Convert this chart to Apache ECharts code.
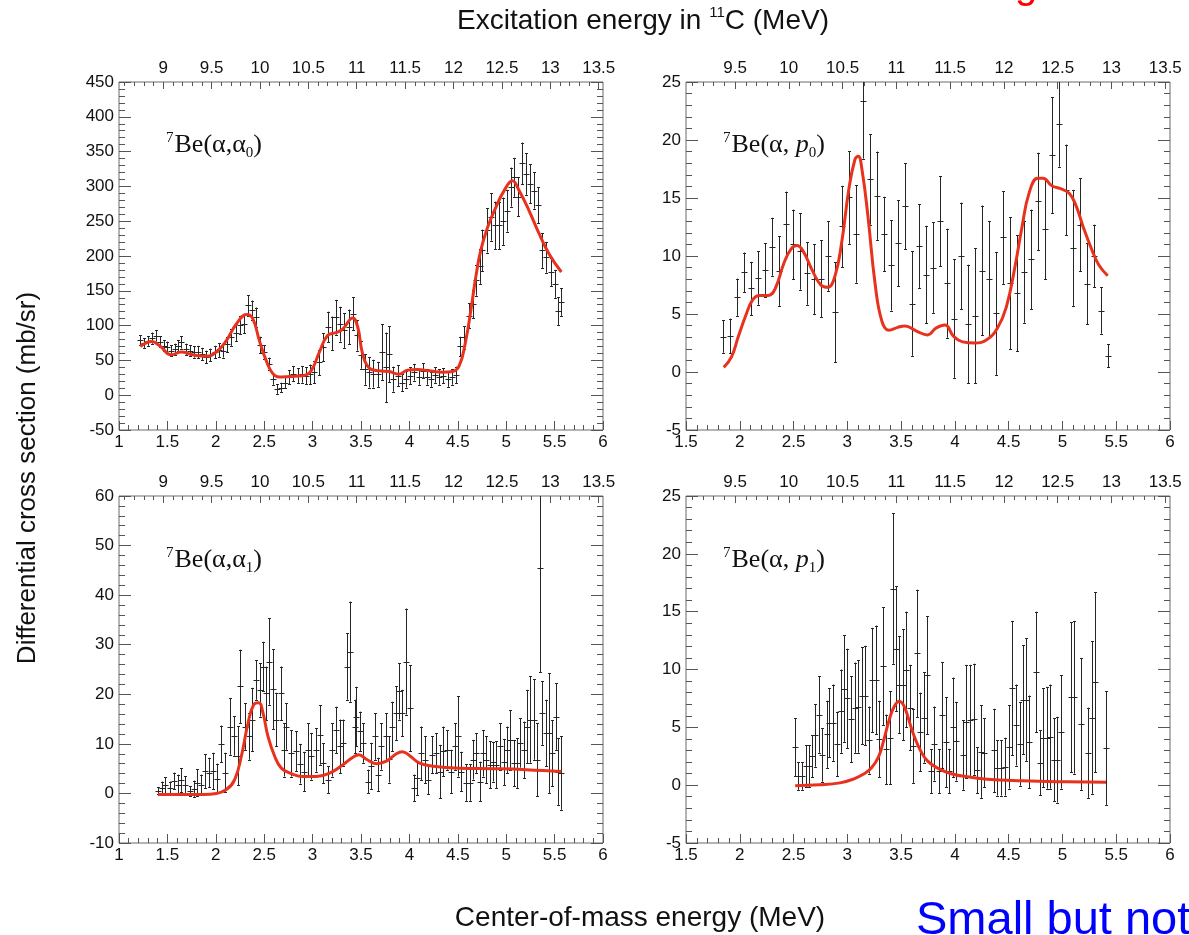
<!DOCTYPE html>
<html><head><meta charset="utf-8">
<script src="https://cdn.jsdelivr.net/npm/echarts@6/dist/echarts.min.js"></script>
<style>html,body{margin:0;padding:0;background:#fff}#c{width:1189px;height:935px}</style>
</head><body><div id="c"></div>
<script>
// ---------------- DATA ----------------
const EX_OFFSET = 7.544; // Ex(11C) = Ecm + alpha threshold
const exTickLabels = [9, 9.5, 10, 10.5, 11, 11.5, 12, 12.5, 13, 13.5];

// Panel 1: 7Be(a,a0)
const p1E = [1.220,1.258,1.299,1.340,1.378,1.420,1.461,1.495,1.540,1.574,
1.609,1.643,1.688,1.729,1.770,1.815,1.860,1.901,1.942,1.987,
2.032,2.073,2.114,2.159,2.204,2.245,2.290,2.331,2.376,2.417,
2.458,2.503,2.547,2.589,2.630,2.675,2.716,2.761,2.802,2.847,
2.891,2.933,2.974,3.019,3.063,3.105,3.156,3.201,3.242,3.283,
3.328,3.373,3.414,3.455,3.500,3.545,3.586,3.627,3.672,3.717,
3.758,3.792,3.834,3.878,3.923,3.964,4.006,4.050,4.095,4.136,
4.177,4.222,4.267,4.308,4.349,4.394,4.439,4.480,4.521,4.566,
4.611,4.652,4.686,4.728,4.755,4.800,4.841,4.886,4.927,4.968,
5.013,5.048,5.082,5.127,5.168,5.209,5.244,5.288,5.333,5.374,
5.415,5.460,5.505,5.536,5.570];
const p1Y = [79,75,78,82,85,77,71,69,64,66,
71,76,66,64,62,62,59,55,58,62,
65,64,73,83,90,101,103,129,122,112,
72,62,45,23,9,11,18,26,31,28,
30,28,30,33,47,69,98,89,112,102,
93,98,117,86,58,37,33,31,30,62,
40,59,23,28,18,23,28,33,26,35,
26,23,29,26,28,23,26,29,70,83,
114,131,165,185,208,237,256,244,244,250,
265,299,313,285,333,318,304,294,273,208,
198,177,160,121,134];
const p1Err = [7,7,7,8,8,8,8,8,8,8,
8,9,8,8,8,9,9,9,9,9,
10,10,11,12,12,13,14,15,14,14,
12,10,9,8,7,7,8,10,11,11,
12,12,14,16,18,20,22,24,25,25,
25,25,24,22,20,22,22,20,18,40,
50,40,18,15,12,12,12,12,11,11,
11,11,11,11,11,11,11,12,14,16,
18,20,22,25,30,32,34,34,34,34,
30,28,28,28,30,30,28,26,26,25,
22,20,20,20,20];
const p1CE = [1.220,1.340,1.420,1.540,1.643,1.763,1.901,2.004,2.107,2.210,
2.320,2.382,2.451,2.520,2.589,2.657,2.761,2.898,2.984,3.070,
3.156,3.242,3.311,3.414,3.466,3.517,3.586,3.689,3.792,3.889,
3.981,4.085,4.205,4.343,4.446,4.514,4.576,4.635,4.686,4.737,
4.807,4.893,4.979,5.065,5.133,5.237,5.340,5.443,5.570];
const p1CY = [70,77,71,58,62,58,56,62,78,102,
116,110,78,50,31,26,27,28,35,62,
86,90,95,111,98,59,39,35,34,30,
36,37,35,33,34,42,74,122,170,208,
241,270,294,308,294,265,232,203,177];

// Panel 2: 7Be(a,p0)
const p2E = [1.842,1.910,1.978,2.040,2.105,2.170,2.235,2.300,2.366,2.431,
2.496,2.561,2.626,2.691,2.756,2.821,2.886,2.951,3.016,3.081,
3.150,3.212,3.277,3.342,3.407,3.472,3.537,3.602,3.667,3.732,
3.797,3.863,3.928,3.993,4.058,4.123,4.188,4.253,4.318,4.383,
4.448,4.513,4.578,4.643,4.709,4.774,4.839,4.904,4.969,5.034,
5.099,5.164,5.229,5.294,5.359,5.425];
const p2Y = [3.06,3.1,6.45,8.6,7.2,8.1,8.8,10.8,8.7,12.75,
11.0,10.4,8.5,8.0,8.05,10.0,5.15,12.55,15.05,11.9,
23.4,16.6,15.2,11.9,9.2,11.1,14.3,5.9,10.85,8.4,
9.0,13.0,7.65,4.6,10.0,4.15,4.85,8.75,8.0,5.05,
11.6,7.65,6.8,8.65,9.7,14.7,12.3,18.7,21.4,15.7,
10.7,12.7,7.6,10.0,5.3,1.4];
const p2Err = [1.4,1.5,1.6,1.7,2.3,2.3,2.3,2.5,3.0,2.8,
3.0,3.3,2.7,3.0,3.3,3.0,4.3,3.5,4.0,4.2,
5.0,3.9,3.8,3.2,3.9,3.7,3.7,4.5,3.6,4.2,
3.9,3.9,4.7,5.1,4.6,5.1,5.8,5.6,5.0,5.3,
4.0,5.7,5.0,4.4,4.3,4.2,4.3,5.0,3.7,3.9,
5.0,4.0,3.5,2.7,2.0,1.0];
const p2CE = [1.851,1.923,1.988,2.053,2.118,2.183,2.265,2.330,2.411,2.476,
2.532,2.590,2.672,2.753,2.818,2.883,2.948,3.013,3.070,3.101,
3.137,3.192,3.257,3.322,3.387,3.469,3.534,3.648,3.745,3.827,
3.908,3.989,4.071,4.185,4.299,4.396,4.478,4.559,4.624,4.689,
4.770,4.819,4.901,4.982,5.063,5.128,5.193,5.275,5.340,5.421];
const p2CY = [0.4,1.3,3.1,4.8,6.2,6.6,6.6,7.2,9.4,10.6,
10.9,10.4,8.8,7.5,7.3,8.2,11.2,15.7,18.3,18.6,
17.4,13.4,7.7,4.35,3.6,3.85,3.97,3.5,3.2,3.8,
4.05,3.06,2.6,2.5,2.8,3.8,5.6,9.1,12.5,15.4,
16.7,16.7,16.05,15.8,15.4,14.3,12.5,10.5,9.2,8.3];

// Panel 3: 7Be(a,a1)
const p3E = [1.403,1.444,1.479,1.523,1.565,1.609,1.644,1.685,1.730,1.771,
1.806,1.851,1.892,1.930,1.971,2.012,2.057,2.098,2.143,2.185,
2.229,2.253,2.298,2.343,2.377,2.419,2.460,2.488,2.522,2.550,
2.591,2.625,2.677,2.701,2.729,2.780,2.825,2.866,2.908,2.953,
2.987,3.032,3.074,3.107,3.159,3.204,3.245,3.280,3.314,3.359,
3.390,3.435,3.452,3.486,3.521,3.572,3.607,3.641,3.676,3.710,
3.755,3.789,3.824,3.858,3.893,3.927,3.968,4.010,4.044,4.079,
4.123,4.158,4.192,4.237,4.278,4.320,4.347,4.388,4.433,4.468,
4.502,4.537,4.581,4.623,4.657,4.691,4.726,4.760,4.795,4.829,
4.864,4.898,4.939,4.974,5.008,5.036,5.077,5.112,5.146,5.180,
5.215,5.249,5.284,5.318,5.346,5.373,5.408,5.442,5.477,5.511,
5.539,5.570];
const p3Y = [0.5,1.1,1.6,1.1,2.5,1.8,2.7,1.8,0.4,0.9,
2.2,1.8,4.5,4.2,4.5,3.0,10.0,4.2,13.5,11.6,
7.6,21.6,13.5,11.5,14.9,22.9,20.9,25.6,20.2,26.6,
21.0,14.9,20.2,8.8,13.5,8.1,8.5,6.0,4.4,8.8,
7.5,8.8,11.8,6.1,2.8,8.8,12.8,9.5,10.2,25.6,
28.6,13.5,15.5,12.5,10.2,2.4,5.5,11.5,3.8,9.5,
11.5,6.9,13.5,16.2,20.6,16.2,26.6,17.2,1.1,3.1,
8.1,6.8,2.8,7.8,8.1,4.4,8.5,8.8,4.4,9.5,
11.5,4.4,2.2,2.2,6.8,8.1,2.4,8.1,6.8,5.8,
6.4,5.8,9.5,6.3,8.8,10.8,6.1,6.1,10.2,8.8,
13.5,14.9,14.9,6.8,45.4,16.2,12.2,12.2,8.1,15.5,
4.4,4.1];
const p3Err = [0.7,1.3,1.7,1.3,1.7,2.0,2.4,1.7,1.0,1.7,
2.7,2.0,3.4,3.0,3.7,3.0,3.7,4.0,5.7,4.0,
6.0,7.4,4.7,4.7,6.4,4.0,5.4,5.0,5.4,8.7,
8.1,5.4,5.4,5.4,4.7,4.7,4.0,4.0,4.0,5.4,
4.7,4.4,6.0,4.0,2.7,5.4,4.7,5.4,4.7,6.7,
10.1,5.4,6.0,4.0,4.0,2.4,4.7,4.7,3.4,4.7,
4.7,4.7,5.0,5.4,5.7,4.7,10.7,8.7,2.7,3.4,
5.4,4.7,3.0,3.7,4.0,5.4,5.0,4.0,4.4,4.7,
8.1,4.0,3.7,3.7,4.0,4.0,4.0,4.7,4.7,4.7,
4.0,4.7,4.7,4.7,4.7,6.0,4.7,5.0,5.0,5.7,
7.4,8.7,8.1,7.4,21.0,6.4,6.7,12.1,6.7,6.7,
6.7,7.4];
const p3CE = [1.403,1.592,1.868,2.006,2.109,2.195,2.264,2.333,2.391,2.443,
2.488,2.539,2.608,2.677,2.780,2.901,3.039,3.176,3.314,3.417,
3.479,3.555,3.658,3.762,3.865,3.927,4.003,4.106,4.244,4.519,
4.864,5.208,5.570];
const p3CY = [-0.2,-0.2,-0.2,0,0.8,2.8,7.5,14.2,17.9,18.3,
16.2,11.5,7.5,5.1,4.0,3.4,3.4,4.1,5.8,7.3,
7.8,6.9,6.0,6.5,8.0,8.4,7.6,6.1,5.5,5.1,
5.0,4.8,4.4];

// Panel 4: 7Be(a,p1)
const p4E = [2.515,2.541,2.574,2.613,2.645,2.672,2.704,2.737,2.769,2.808,
2.834,2.867,2.906,2.938,2.971,2.997,3.036,3.069,3.101,3.134,
3.166,3.199,3.231,3.264,3.296,3.329,3.361,3.394,3.420,3.453,
3.485,3.518,3.550,3.583,3.615,3.648,3.680,3.713,3.745,3.778,
3.810,3.850,3.876,3.915,3.947,3.980,4.012,4.077,4.103,4.136,
4.175,4.207,4.240,4.273,4.364,4.396,4.429,4.468,4.500,4.533,
4.565,4.605,4.635,4.663,4.689,4.754,4.787,4.819,4.852,4.884,
4.917,4.949,4.988,5.080,5.112,5.177,5.242,5.275,5.307,5.405];
const p4Y = [3.27,0.8,0.8,1.65,1.65,2.5,4.3,6.1,2.6,4.4,
5.4,5.4,3.55,6.4,8.35,7.5,5.7,6.7,6.8,7.75,
7.75,3.9,9.1,9.1,4.0,10.3,3.1,4.1,17.0,11.8,
8.7,8.7,10.0,6.7,3.4,11.4,4.6,5.85,9.5,1.2,
3.6,1.2,6.05,3.7,1.2,5.0,3.8,2.6,5.5,5.6,
5.7,1.3,2.9,2.8,3.0,1.5,1.5,1.6,3.3,8.4,
5.2,3.55,7.4,7.4,3.75,9.8,1.95,4.1,4.1,4.2,
2.2,2.2,4.6,7.6,7.6,5.3,2.8,5.85,8.9,3.2];
const p4Err = [2.5,1.2,1.2,1.8,1.8,1.8,2.7,3.3,2.3,2.9,
3.0,3.3,2.8,3.6,4.6,4.3,3.7,3.9,4.0,4.2,
4.3,2.9,4.5,4.7,3.3,5.1,3.0,4.0,6.5,5.4,
4.2,4.8,5.0,3.7,3.2,5.5,3.4,3.9,5.1,1.9,
3.2,1.9,4.6,3.9,1.9,4.3,3.4,3.0,4.9,4.8,
4.8,2.0,4.0,3.0,3.6,2.4,2.4,2.5,3.6,5.8,
3.5,3.6,4.7,5.3,4.0,5.2,2.8,4.3,4.4,4.5,
3.6,3.7,4.9,6.5,6.6,5.7,3.9,6.6,7.8,4.9];
const p4CE = [2.515,2.737,2.932,3.062,3.160,3.225,3.290,3.339,3.388,3.436,
3.485,3.518,3.550,3.583,3.631,3.680,3.745,3.843,3.973,4.136,
4.299,4.624,4.949,5.405];
const p4CY = [-0.05,0.03,0.2,0.55,1.0,1.5,2.45,3.9,5.6,6.8,
7.25,7.0,6.3,5.3,4.0,3.0,2.1,1.45,0.97,0.7,
0.52,0.38,0.3,0.25];

// ---------------- STYLE / LAYOUT ----------------
const FONT = "'Liberation Sans', Arial, Helvetica, sans-serif";
const TITLE_FONT = "'Liberation Sans', Arial, sans-serif";
const SERIF = "'Liberation Serif', 'Times New Roman', serif";
const TICK_C = '#555';
const BAR_C = '#262626';
const CURVE_C = '#e8321e';

const panels = [
  {E:p1E, Y:p1Y, Err:p1Err, cE:p1CE, cY:p1CY, xMin:1, xMax:6, yMin:-50, yMax:450, yInt:50,
   left:119, top:82, width:484, height:348, label:'{sup|7}{m|Be(α,α}{sub|0}{m|)}', lx:166, ly:129},
  {E:p2E, Y:p2Y, Err:p2Err, cE:p2CE, cY:p2CY, xMin:1.5, xMax:6, yMin:-5, yMax:25, yInt:5,
   left:686, top:82, width:484, height:348, label:'{sup|7}{m|Be(α, }{i|p}{sub|0}{m|)}', lx:723, ly:129},
  {E:p3E, Y:p3Y, Err:p3Err, cE:p3CE, cY:p3CY, xMin:1, xMax:6, yMin:-10, yMax:60, yInt:10,
   left:119, top:496, width:484, height:347, label:'{sup|7}{m|Be(α,α}{sub|1}{m|)}', lx:166, ly:544},
  {E:p4E, Y:p4Y, Err:p4Err, cE:p4CE, cY:p4CY, xMin:1.5, xMax:6, yMin:-5, yMax:25, yInt:5,
   left:686, top:496, width:484, height:347, label:'{sup|7}{m|Be(α, }{i|p}{sub|1}{m|)}', lx:723, ly:544}
];

const exMinorTicks = [];
for (let k = 86; k <= 135; k++) if (k % 5 !== 0) exMinorTicks.push(k / 10);

function errorBarItem(params, api) {
  const x = api.value(0), y = api.value(1), e = api.value(2);
  const cs = params.coordSys;
  const lim0 = cs.y, lim1 = cs.y + cs.height;
  const c = api.coord([x, y]);
  const t = api.coord([x, y + e])[1];
  const b = api.coord([x, y - e])[1];
  const cx = Math.round(c[0]) + 0.5;
  const style = {stroke: BAR_C, lineWidth: 1, fill: null};
  const kids = [];
  const tc = Math.max(t, lim0), bc = Math.min(b, lim1);
  if (bc > tc) kids.push({type:'line', shape:{x1:cx, y1:tc, x2:cx, y2:bc}, style});
  if (c[1] >= lim0 && c[1] <= lim1) {
    const cy = Math.round(c[1]) + 0.5;
    kids.push({type:'line', shape:{x1:cx-3, y1:cy, x2:cx+3, y2:cy}, style});
  }
  if (t >= lim0) { const ty = Math.round(t)+0.5; kids.push({type:'line', shape:{x1:cx-1.5, y1:ty, x2:cx+1.5, y2:ty}, style}); }
  if (b <= lim1) { const by = Math.round(b)+0.5; kids.push({type:'line', shape:{x1:cx-1.5, y1:by, x2:cx+1.5, y2:by}, style}); }
  return {type:'group', children: kids};
}

const grids = [], xAxes = [], yAxes = [], series = [], graphics = [];
const labelStyle = {fontSize:17, color:'#111', fontFamily:FONT};
const noLine = {show:false, onZero:false};

panels.forEach((p, i) => {
  grids.push({left:p.left, top:p.top, width:p.width, height:p.height, show:true,
              borderColor:'#6a6a6a', borderWidth:1, backgroundColor:'transparent'});
  const exMin = p.xMin + EX_OFFSET, exMax = p.xMax + EX_OFFSET;
  const majors = exTickLabels.filter(v => v >= exMin && v <= exMax);
  const minors = exMinorTicks.filter(v => v >= exMin && v <= exMax);
  // bottom: centre-of-mass energy
  xAxes.push({gridIndex:i, type:'value', position:'bottom', min:p.xMin, max:p.xMax, interval:0.5,
    axisLine:noLine, splitLine:{show:false},
    axisTick:{inside:true, length:9, lineStyle:{color:TICK_C}},
    minorTick:{show:true, splitNumber:5, length:5, lineStyle:{color:TICK_C}},
    axisLabel:Object.assign({margin:4}, labelStyle)});
  // top: excitation energy (major + labels)
  xAxes.push({gridIndex:i, type:'value', position:'top', min:exMin, max:exMax,
    axisLine:noLine, splitLine:{show:false},
    axisTick:{inside:true, length:7, customValues:majors, lineStyle:{color:TICK_C}},
    axisLabel:Object.assign({margin:5, customValues:majors, formatter:v => String(Math.round(v*10)/10)}, labelStyle)});
  // top: minor ticks
  xAxes.push({gridIndex:i, type:'value', position:'top', min:exMin, max:exMax,
    axisLine:noLine, splitLine:{show:false},
    axisTick:{inside:true, length:4, customValues:minors, lineStyle:{color:TICK_C}},
    axisLabel:{show:false}});
  yAxes.push({gridIndex:i, type:'value', position:'left', min:p.yMin, max:p.yMax, interval:p.yInt,
    axisLine:noLine, splitLine:{show:false},
    axisTick:{inside:true, length:12, lineStyle:{color:TICK_C}},
    minorTick:{show:true, splitNumber:5, length:6, lineStyle:{color:TICK_C}},
    axisLabel:Object.assign({margin:5}, labelStyle)});
  yAxes.push({gridIndex:i, type:'value', position:'right', min:p.yMin, max:p.yMax, interval:p.yInt,
    axisLine:noLine, splitLine:{show:false},
    axisTick:{inside:true, length:12, lineStyle:{color:TICK_C}},
    minorTick:{show:true, splitNumber:5, length:6, lineStyle:{color:TICK_C}},
    axisLabel:{show:false}});
  series.push({type:'custom', xAxisIndex:3*i, yAxisIndex:2*i, renderItem:errorBarItem,
    data:p.E.map((e, k) => [e, p.Y[k], p.Err[k]]), encode:{x:0, y:1}, z:2, silent:true});
  series.push({type:'line', xAxisIndex:3*i, yAxisIndex:2*i, smooth:0.45, showSymbol:false, symbol:'none',
    data:p.cE.map((e, k) => [e, p.cY[k]]), lineStyle:{color:CURVE_C, width:3}, z:3, silent:true});
  graphics.push({type:'text', x:p.lx, y:p.ly, z:10, style:{
    text:p.label, align:'left', verticalAlign:'top',
    rich:{
      m:{fontFamily:SERIF, fontSize:26, fill:'#111', color:'#111', lineHeight:32},
      i:{fontFamily:SERIF, fontSize:26, fontStyle:'italic', fill:'#111', color:'#111', lineHeight:32},
      sup:{fontFamily:SERIF, fontSize:15, fill:'#111', color:'#111', verticalAlign:'top', padding:[2,1,0,0]},
      sub:{fontFamily:SERIF, fontSize:15, fill:'#111', color:'#111', verticalAlign:'bottom'}
    }}});
});

graphics.push({type:'text', x:643, y:21, style:{
  text:'{a|Excitation energy in }{s|11}{a|C (MeV)}', align:'center', verticalAlign:'middle',
  rich:{a:{fontFamily:TITLE_FONT, fontSize:28, fill:'#111', color:'#111', lineHeight:32},
        s:{fontFamily:TITLE_FONT, fontSize:15, fill:'#111', color:'#111', verticalAlign:'top'}}}});
graphics.push({type:'text', x:28, y:478, rotation:Math.PI/2, style:{
  text:'Differential cross section (mb/sr)', align:'center', verticalAlign:'middle',
  fontFamily:TITLE_FONT, fontSize:26, fill:'#111'}});
graphics.push({type:'text', x:640, y:918, style:{
  text:'Center-of-mass energy (MeV)', align:'center', verticalAlign:'middle',
  fontFamily:TITLE_FONT, fontSize:28, fill:'#111'}});
graphics.push({type:'text', x:916, y:898, style:{
  text:'Small but not', align:'left', verticalAlign:'top',
  fontFamily:FONT, fontSize:47, fill:'#0000ff'}});
graphics.push({type:'text', x:1015, y:7, style:{
  text:'g', align:'left', verticalAlign:'bottom',
  fontFamily:FONT, fontSize:40, fill:'#ff0000'}});

const chart = echarts.init(document.getElementById('c'), null, {renderer:'canvas', width:1189, height:935});
chart.setOption({
  animation:false, backgroundColor:'#fff',
  grid:grids, xAxis:xAxes, yAxis:yAxes, series:series, graphic:graphics
});
</script></body></html>
